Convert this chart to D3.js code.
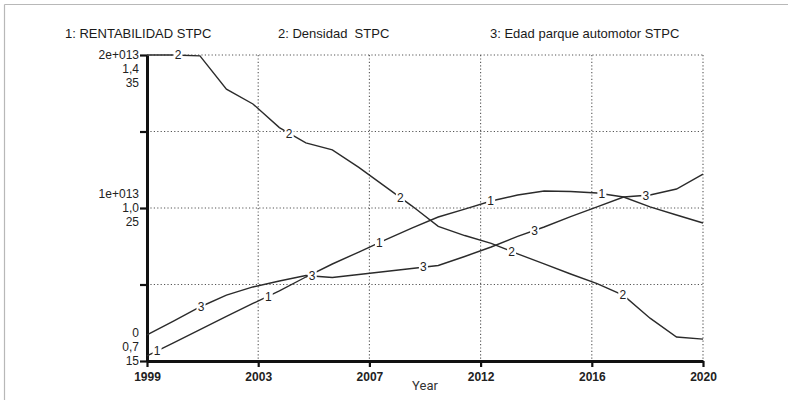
<!DOCTYPE html>
<html>
<head>
<meta charset="utf-8">
<script src="https://cdn.jsdelivr.net/npm/d3@7/dist/d3.min.js"></script>
<style>
  html, body { margin: 0; padding: 0; background: #fff; }
  svg { display: block; font-family: "Liberation Sans", Arial, sans-serif; }
</style>
</head>
<body>
<svg id="chart" width="788" height="400"></svg>
<script>
// Simulation output, one value per year
const years = d3.range(1999, 2021);
const rentabilidad = [0.33e12, 1.18e12, 2.05e12, 2.91e12, 3.76e12, 4.58e12, 5.49e12, 6.34e12, 7.12e12, 7.91e12, 8.69e12,
  9.41e12, 9.93e12, 10.46e12, 10.85e12, 11.11e12, 11.08e12, 10.98e12, 10.72e12, 10.07e12, 9.54e12, 9.02e12];
const densidad = [1.400, 1.400, 1.398, 1.322, 1.288, 1.234, 1.199, 1.183, 1.143, 1.099, 1.055,
  1.008, 0.987, 0.969, 0.945, 0.922, 0.899, 0.877, 0.850, 0.798, 0.755, 0.750];
const edad = [16.70, 17.61, 18.53, 19.31, 19.84, 20.23, 20.59, 20.46, 20.65, 20.85, 21.05,
  21.24, 21.83, 22.45, 23.14, 23.76, 24.44, 25.07, 25.72, 25.85, 26.24, 27.22];

const seriesNames = ["1: RENTABILIDAD STPC", "2: Densidad  STPC", "3: Edad parque automotor STPC"];
const seriesDomains = [[0, 2e13], [0.7, 1.4], [15, 35]];
const yTickLabels = [["0", "1e+013", "2e+013"], ["0,7", "1,0", "1,4"], ["15", "25", "35"]];
const xTickValues = d3.range(6).map(i => 1999 + i * 4.2);
const xTickLabels = ["1999", "2003", "2007", "2012", "2016", "2020"];
const labelOffsetYears = [0.38, 1.17, 2.04];

const svg = d3.select("#chart");
const plotLeft = 147, plotRight = 703, plotTop = 55, plotBottom = 361;

// frame of the panel
svg.append("line").attr("x1", 4.5).attr("x2", 788).attr("y1", 4.5).attr("y2", 4.5)
  .attr("stroke", "#b8b8b8").attr("stroke-width", 1.2);
svg.append("line").attr("x1", 4.5).attr("x2", 4.5).attr("y1", 4.5).attr("y2", 400)
  .attr("stroke", "#b8b8b8").attr("stroke-width", 1.2);

const x = d3.scaleLinear().domain([1999, 2020]).range([plotLeft, plotRight]);
const yScales = seriesDomains.map(d => d3.scaleLinear().domain(d).range([plotBottom, plotTop]));
const yGrid = yScales[0];
const gridValues = d3.range(5).map(i => i * 5e12);

// dotted grid
const grid = svg.append("g").attr("stroke", "#555").attr("stroke-width", 1.1).attr("stroke-dasharray", "1.2,2.2");
grid.selectAll(".gx").data(xTickValues.slice(1)).join("line")
  .attr("x1", d => x(d)).attr("x2", d => x(d)).attr("y1", plotTop).attr("y2", plotBottom);
grid.selectAll(".gy").data(gridValues.slice(1)).join("line")
  .attr("x1", plotLeft).attr("x2", plotRight).attr("y1", d => yGrid(d)).attr("y2", d => yGrid(d));

// axes
const yAxis = d3.axisLeft(yGrid).tickValues(gridValues).tickFormat("").tickSize(7).tickSizeOuter(0);
const gy = svg.append("g").attr("transform", `translate(${plotLeft},0)`).call(yAxis);
const xAxis = d3.axisBottom(x).tickValues(xTickValues).tickFormat((d, i) => xTickLabels[i]).tickSize(6).tickSizeOuter(0);
const gx = svg.append("g").attr("transform", `translate(0,${plotBottom})`).call(xAxis);
[gy, gx].forEach(g => {
  g.select(".domain").attr("stroke", "#111").attr("stroke-width", 3);
  g.selectAll(".tick line").attr("stroke", "#111").attr("stroke-width", 2.2);
});
gx.selectAll(".tick text").attr("font-size", 12).attr("font-weight", "bold")
  .attr("fill", "#222").attr("dy", "0.9em").attr("font-family", "'Liberation Sans', Arial, sans-serif");

// stacked value labels for the three scales
const yLabel = svg.append("g").attr("font-size", 12).attr("fill", "#222").attr("text-anchor", "end");
const groups = [
  { v: 0, offs: [-28, -14, 0] },
  { v: 1, offs: [-14, 0, 14] },
  { v: 2, offs: [0, 14, 28] }
];
groups.forEach(gp => {
  const baseY = yGrid(gridValues[gp.v * 2]);
  yTickLabels.forEach((labels, s) => {
    yLabel.append("text").attr("x", 139).attr("y", baseY + gp.offs[s]).attr("dy", "0.35em").text(labels[gp.v]);
  });
});

// series lines
const seriesData = [rentabilidad, densidad, edad];
seriesData.forEach((vals, s) => {
  const line = d3.line().x((d, i) => x(years[i])).y(d => yScales[s](d));
  svg.append("path").datum(vals).attr("d", line)
    .attr("fill", "none").attr("stroke", "#2b2b2b").attr("stroke-width", 1.4);
});

// numbered markers along each line
seriesData.forEach((vals, s) => {
  const interp = t => {
    const i = Math.min(Math.floor(t - 1999), vals.length - 2);
    const f = t - 1999 - i;
    return vals[i] + (vals[i + 1] - vals[i]) * f;
  };
  xTickValues.slice(0, 5).forEach(t0 => {
    const t = t0 + labelOffsetYears[s];
    const px = x(t), py = yScales[s](interp(t));
    svg.append("rect").attr("x", px - 4.5).attr("y", py - 6.5).attr("width", 9).attr("height", 13).attr("fill", "#fff");
    svg.append("text").attr("x", px).attr("y", py).attr("dy", "0.36em").attr("text-anchor", "middle")
      .attr("font-size", 12).attr("fill", "#222").text(String(s + 1));
  });
});

// legend
const legendX = [65, 278, 490];
seriesNames.forEach((n, i) => {
  svg.append("text").attr("x", legendX[i]).attr("y", 38).attr("font-size", 13).attr("fill", "#1a1a1a")
    .attr("xml:space", "preserve").style("white-space", "pre").text(n);
});

// axis title
svg.append("text").attr("x", 425).attr("y", 390).attr("text-anchor", "middle")
  .attr("font-size", 13).attr("fill", "#333").attr("font-family", "Roboto, 'Open Sans', sans-serif").text("Year");
</script>
</body>
</html>
